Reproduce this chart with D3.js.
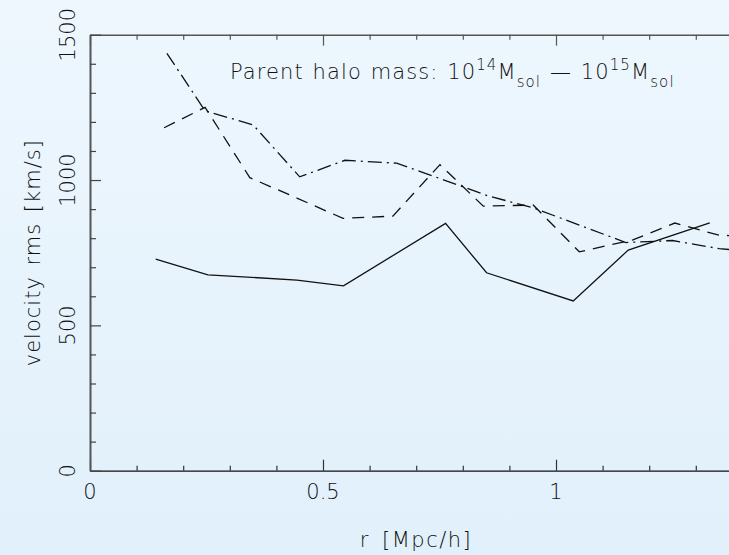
<!DOCTYPE html>
<html>
<head>
<meta charset="utf-8">
<script src="https://cdn.jsdelivr.net/npm/d3@7/dist/d3.min.js"></script>
<style>
  html, body { margin: 0; padding: 0; }
  body { width: 729px; height: 555px; overflow: hidden; }
  text { font-family: "DejaVu Sans", sans-serif; font-weight: 200; fill: #111; }
</style>
</head>
<body>
<svg id="chart" width="729" height="555"></svg>
<script>
// ---- data ----
const rSolid  = [0.141, 0.253, 0.444, 0.544, 0.763, 0.851, 1.037, 1.155, 1.330];
const vSolid  = [728, 674, 656, 636, 851, 681, 584, 759, 853];

const rDashed = [0.159, 0.247, 0.343, 0.444, 0.543, 0.650, 0.751, 0.844, 0.951, 1.050, 1.165, 1.255, 1.350, 1.450];
const vDashed = [1180, 1250, 1008, 938, 868, 876, 1053, 910, 914, 753, 794, 852, 810, 805];

const rDashDot = [0.165, 0.247, 0.350, 0.450, 0.547, 0.658, 0.760, 0.855, 0.950, 1.050, 1.150, 1.250, 1.350, 1.450];
const vDashDot = [1436, 1238, 1190, 1011, 1068, 1058, 1000, 945, 905, 845, 785, 792, 764, 750];

const xMajorTicks = [0, 0.5, 1];
const xMajorLabels = ["0", "0.5", "1"];
const yMajorTicks = [0, 500, 1000, 1500];
const yMajorLabels = ["0", "500", "1000", "1500"];

const xTitle = "r [Mpc/h]";
const yTitle = "velocity rms [km/s]";

// ---- layout ----
const W = 729, H = 555;
const svg = d3.select("#chart");

const defs = svg.append("defs");
const grad = defs.append("linearGradient").attr("id", "bg").attr("x1", 0).attr("y1", 0).attr("x2", 0).attr("y2", 1);
grad.append("stop").attr("offset", "0%").attr("stop-color", "#eef7fe");
grad.append("stop").attr("offset", "100%").attr("stop-color", "#e1f0fb");
svg.append("rect").attr("width", W).attr("height", H).attr("fill", "url(#bg)");

const x = d3.scaleLinear().domain([0, 1.4]).range([90, 742.4]);
const y = d3.scaleLinear().domain([0, 1500]).range([470.7, 34.7]);

defs.append("clipPath").attr("id", "plotclip").append("rect")
  .attr("x", x(0)).attr("y", y(1500)).attr("width", x(1.4) - x(0)).attr("height", y(0) - y(1500));

// ---- data lines ----
const line = d3.line().x(d => x(d[0])).y(d => y(d[1]));
const plot = svg.append("g").attr("clip-path", "url(#plotclip)");

function drawSeries(rs, vs, dash) {
  plot.append("path")
    .datum(rs.map((r, i) => [r, vs[i]]))
    .attr("d", line)
    .attr("fill", "none")
    .attr("stroke", "#111")
    .attr("stroke-width", 1.3)
    .attr("stroke-dasharray", dash);
}
drawSeries(rSolid, vSolid, null);
drawSeries(rDashed, vDashed, "12,8");
drawSeries(rDashDot, vDashDot, "14,5,2,5");

// ---- axes ----
const xMinor = d3.range(0, 1.41, 0.1).map(v => +v.toFixed(2));
const yMinor = d3.range(0, 1501, 100);

const axBottom = d3.axisBottom(x).tickValues(xMinor).tickSizeInner(-5).tickSizeOuter(0).tickFormat("");
const gb = svg.append("g").attr("transform", `translate(0,${y(0)})`).call(axBottom);
gb.select(".domain").attr("stroke", "#111").attr("stroke-width", 1.3);
gb.selectAll(".tick line").attr("stroke", "#333").attr("stroke-width", 1.2)
  .attr("y2", d => xMajorTicks.includes(d) ? -11 : -5);

const axTop = d3.axisTop(x).tickValues(xMinor).tickSizeInner(-5).tickSizeOuter(0).tickFormat("");
const gt = svg.append("g").attr("transform", `translate(0,${y(1500)})`).call(axTop);
gt.select(".domain").attr("stroke", "#555").attr("stroke-width", 1.6);
gt.selectAll(".tick line").attr("stroke", "#555").attr("stroke-width", 1.2)
  .attr("y2", d => xMajorTicks.includes(d) ? 11 : 5);

const axLeft = d3.axisLeft(y).tickValues(yMinor).tickSizeInner(-6).tickSizeOuter(0).tickFormat("");
const gl = svg.append("g").attr("transform", `translate(${x(0)},0)`).call(axLeft);
gl.select(".domain").attr("stroke", "#555").attr("stroke-width", 2);
gl.selectAll(".tick line").attr("stroke", "#444").attr("stroke-width", 1.2)
  .attr("x2", d => yMajorTicks.includes(d) ? 11 : 6);

// tick labels
svg.append("g").selectAll("text").data(xMajorTicks).join("text")
  .attr("x", d => x(d)).attr("y", 499)
  .attr("text-anchor", "middle").attr("font-size", 21)
  .text((d, i) => xMajorLabels[i]);

svg.append("g").selectAll("text").data(yMajorTicks).join("text")
  .attr("transform", d => `translate(75,${y(d)}) rotate(-90)`)
  .attr("text-anchor", "middle").attr("font-size", 21)
  .text((d, i) => yMajorLabels[i]);

// axis titles
svg.append("text").attr("x", 416).attr("y", 547)
  .attr("text-anchor", "middle").attr("font-size", 21)
  .attr("letter-spacing", 1.5).attr("word-spacing", 4).text(xTitle);

svg.append("text")
  .attr("transform", `translate(40,${(y(0) + y(1500)) / 2}) rotate(-90)`)
  .attr("text-anchor", "middle").attr("font-size", 21)
  .attr("letter-spacing", 1).attr("word-spacing", 3).text(yTitle);

// annotation
const t = svg.append("text").attr("x", 230).attr("y", 79).attr("font-size", 21)
  .attr("letter-spacing", 1.1).attr("word-spacing", 1);
t.append("tspan").text("Parent halo mass: 10");
t.append("tspan").attr("dy", -9).attr("font-size", 15).text("14");
t.append("tspan").attr("dy", 9).text("M");
t.append("tspan").attr("dy", 8).attr("font-size", 15).text("sol");
t.append("tspan").attr("dy", -8).text(" \u2014 10");
t.append("tspan").attr("dy", -9).attr("font-size", 15).text("15");
t.append("tspan").attr("dy", 9).text("M");
t.append("tspan").attr("dy", 8).attr("font-size", 15).text("sol");
</script>
</body>
</html>
